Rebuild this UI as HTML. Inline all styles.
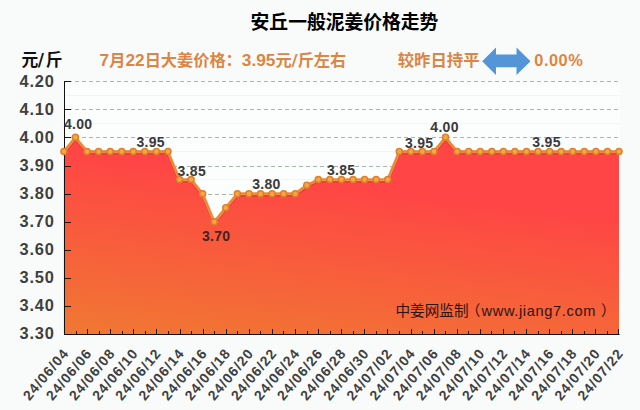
<!DOCTYPE html>
<html lang="zh"><head><meta charset="utf-8"><title>安丘一般泥姜价格走势</title>
<style>
html,body{margin:0;padding:0;background:#f9fbfb;}
body{width:640px;height:410px;overflow:hidden;position:relative;font-family:"Liberation Sans","Noto Sans CJK SC",sans-serif;}
svg{position:absolute;left:0;top:0;display:block}
svg text{font-family:"Liberation Sans","Noto Sans CJK SC",sans-serif;}
</style></head><body>
<svg width="640" height="410" viewBox="0 0 640 410">
<defs>
<linearGradient id="g" x1="1" y1="0" x2="0.6" y2="1.2">
<stop offset="0" stop-color="#ff4545"/><stop offset="0.3" stop-color="#ff4545"/><stop offset="1" stop-color="#f07832"/>
</linearGradient>
</defs>
<rect width="640" height="410" fill="#f9fbfb"/>
<rect x="65" y="81" width="555" height="253" fill="#fcfdfd"/>
<g stroke="#f2f5f4" stroke-width="1"><line x1="66" x2="620" y1="95.50" y2="95.50"/><line x1="66" x2="620" y1="123.50" y2="123.50"/><line x1="66" x2="620" y1="151.50" y2="151.50"/><line x1="66" x2="620" y1="179.50" y2="179.50"/></g>
<g stroke="#a9b7ab" stroke-width="1" stroke-dasharray="4 3"><line x1="68" x2="621" y1="81.50" y2="81.50"/><line x1="68" x2="621" y1="109.50" y2="109.50"/><line x1="68" x2="621" y1="137.50" y2="137.50"/><line x1="68" x2="621" y1="166.50" y2="166.50"/><line x1="68" x2="621" y1="194.50" y2="194.50"/><line x1="68" x2="621" y1="222.50" y2="222.50"/><line x1="68" x2="621" y1="250.50" y2="250.50"/><line x1="68" x2="621" y1="278.50" y2="278.50"/><line x1="68" x2="621" y1="306.50" y2="306.50"/></g>
<path d="M63.90,334.5 L63.90,151.43 L75.46,137.37 L87.03,151.43 L98.59,151.43 L110.16,151.43 L121.72,151.43 L133.29,151.43 L144.85,151.43 L156.42,151.43 L167.98,151.43 L179.55,179.57 L191.11,179.57 L202.68,193.63 L214.24,221.77 L225.80,207.70 L237.37,193.63 L248.93,193.63 L260.50,193.63 L272.06,193.63 L283.63,193.63 L295.19,193.63 L306.76,185.19 L318.32,179.57 L329.89,179.57 L341.45,179.57 L353.01,179.57 L364.58,179.57 L376.14,179.57 L387.71,179.57 L399.27,151.43 L410.84,151.43 L422.40,151.43 L433.97,151.43 L445.53,137.37 L457.10,151.43 L468.66,151.43 L480.22,151.43 L491.79,151.43 L503.35,151.43 L514.92,151.43 L526.48,151.43 L538.05,151.43 L549.61,151.43 L561.18,151.43 L572.74,151.43 L584.31,151.43 L595.87,151.43 L607.44,151.43 L619.00,151.43 L619.00,334.5 Z" fill="url(#g)"/>
<g stroke="#1a1a1a" stroke-width="1"><line x1="64.5" x2="71" y1="81.50" y2="81.50"/><line x1="64.5" x2="71" y1="109.50" y2="109.50"/><line x1="64.5" x2="71" y1="137.50" y2="137.50"/><line x1="64.5" x2="71" y1="166.50" y2="166.50"/><line x1="64.5" x2="71" y1="194.50" y2="194.50"/><line x1="64.5" x2="71" y1="222.50" y2="222.50"/><line x1="64.5" x2="71" y1="250.50" y2="250.50"/><line x1="64.5" x2="71" y1="278.50" y2="278.50"/><line x1="64.5" x2="71" y1="306.50" y2="306.50"/><line x1="64.5" x2="71" y1="334.50" y2="334.50"/><line x1="64.50" x2="64.50" y1="334.5" y2="329.0"/><line x1="76.50" x2="76.50" y1="334.5" y2="331.0"/><line x1="87.50" x2="87.50" y1="334.5" y2="329.0"/><line x1="99.50" x2="99.50" y1="334.5" y2="331.0"/><line x1="110.50" x2="110.50" y1="334.5" y2="329.0"/><line x1="122.50" x2="122.50" y1="334.5" y2="331.0"/><line x1="133.50" x2="133.50" y1="334.5" y2="329.0"/><line x1="145.50" x2="145.50" y1="334.5" y2="331.0"/><line x1="156.50" x2="156.50" y1="334.5" y2="329.0"/><line x1="168.50" x2="168.50" y1="334.5" y2="331.0"/><line x1="180.50" x2="180.50" y1="334.5" y2="329.0"/><line x1="191.50" x2="191.50" y1="334.5" y2="331.0"/><line x1="203.50" x2="203.50" y1="334.5" y2="329.0"/><line x1="214.50" x2="214.50" y1="334.5" y2="331.0"/><line x1="226.50" x2="226.50" y1="334.5" y2="329.0"/><line x1="237.50" x2="237.50" y1="334.5" y2="331.0"/><line x1="249.50" x2="249.50" y1="334.5" y2="329.0"/><line x1="260.50" x2="260.50" y1="334.5" y2="331.0"/><line x1="272.50" x2="272.50" y1="334.5" y2="329.0"/><line x1="283.50" x2="283.50" y1="334.5" y2="331.0"/><line x1="295.50" x2="295.50" y1="334.5" y2="329.0"/><line x1="307.50" x2="307.50" y1="334.5" y2="331.0"/><line x1="318.50" x2="318.50" y1="334.5" y2="329.0"/><line x1="330.50" x2="330.50" y1="334.5" y2="331.0"/><line x1="341.50" x2="341.50" y1="334.5" y2="329.0"/><line x1="353.50" x2="353.50" y1="334.5" y2="331.0"/><line x1="364.50" x2="364.50" y1="334.5" y2="329.0"/><line x1="376.50" x2="376.50" y1="334.5" y2="331.0"/><line x1="387.50" x2="387.50" y1="334.5" y2="329.0"/><line x1="399.50" x2="399.50" y1="334.5" y2="331.0"/><line x1="411.50" x2="411.50" y1="334.5" y2="329.0"/><line x1="422.50" x2="422.50" y1="334.5" y2="331.0"/><line x1="434.50" x2="434.50" y1="334.5" y2="329.0"/><line x1="445.50" x2="445.50" y1="334.5" y2="331.0"/><line x1="457.50" x2="457.50" y1="334.5" y2="329.0"/><line x1="468.50" x2="468.50" y1="334.5" y2="331.0"/><line x1="480.50" x2="480.50" y1="334.5" y2="329.0"/><line x1="491.50" x2="491.50" y1="334.5" y2="331.0"/><line x1="503.50" x2="503.50" y1="334.5" y2="329.0"/><line x1="514.50" x2="514.50" y1="334.5" y2="331.0"/><line x1="526.50" x2="526.50" y1="334.5" y2="329.0"/><line x1="538.50" x2="538.50" y1="334.5" y2="331.0"/><line x1="549.50" x2="549.50" y1="334.5" y2="329.0"/><line x1="561.50" x2="561.50" y1="334.5" y2="331.0"/><line x1="572.50" x2="572.50" y1="334.5" y2="329.0"/><line x1="584.50" x2="584.50" y1="334.5" y2="331.0"/><line x1="595.50" x2="595.50" y1="334.5" y2="329.0"/><line x1="607.50" x2="607.50" y1="334.5" y2="331.0"/><line x1="618.50" x2="618.50" y1="334.5" y2="329.0"/></g>
<line x1="64.5" x2="64.5" y1="81" y2="335" stroke="#111" stroke-width="1"/>
<line x1="64" x2="619.6" y1="334.5" y2="334.5" stroke="#111" stroke-width="1.1"/>
<polyline points="63.90,151.43 75.46,137.37 87.03,151.43 98.59,151.43 110.16,151.43 121.72,151.43 133.29,151.43 144.85,151.43 156.42,151.43 167.98,151.43 179.55,179.57 191.11,179.57 202.68,193.63 214.24,221.77 225.80,207.70 237.37,193.63 248.93,193.63 260.50,193.63 272.06,193.63 283.63,193.63 295.19,193.63 306.76,185.19 318.32,179.57 329.89,179.57 341.45,179.57 353.01,179.57 364.58,179.57 376.14,179.57 387.71,179.57 399.27,151.43 410.84,151.43 422.40,151.43 433.97,151.43 445.53,137.37 457.10,151.43 468.66,151.43 480.22,151.43 491.79,151.43 503.35,151.43 514.92,151.43 526.48,151.43 538.05,151.43 549.61,151.43 561.18,151.43 572.74,151.43 584.31,151.43 595.87,151.43 607.44,151.43 619.00,151.43" fill="none" stroke="#d93030" stroke-opacity="0.45" stroke-width="2.6" stroke-linejoin="round" transform="translate(0,2)"/>
<polyline points="63.90,151.43 75.46,137.37 87.03,151.43 98.59,151.43 110.16,151.43 121.72,151.43 133.29,151.43 144.85,151.43 156.42,151.43 167.98,151.43 179.55,179.57 191.11,179.57 202.68,193.63 214.24,221.77 225.80,207.70 237.37,193.63 248.93,193.63 260.50,193.63 272.06,193.63 283.63,193.63 295.19,193.63 306.76,185.19 318.32,179.57 329.89,179.57 341.45,179.57 353.01,179.57 364.58,179.57 376.14,179.57 387.71,179.57 399.27,151.43 410.84,151.43 422.40,151.43 433.97,151.43 445.53,137.37 457.10,151.43 468.66,151.43 480.22,151.43 491.79,151.43 503.35,151.43 514.92,151.43 526.48,151.43 538.05,151.43 549.61,151.43 561.18,151.43 572.74,151.43 584.31,151.43 595.87,151.43 607.44,151.43 619.00,151.43" fill="none" stroke="#f3a05a" stroke-width="2.8" stroke-linejoin="round" stroke-linecap="round"/>
<polyline points="63.90,151.43 75.46,137.37 87.03,151.43 98.59,151.43 110.16,151.43 121.72,151.43 133.29,151.43 144.85,151.43 156.42,151.43 167.98,151.43 179.55,179.57 191.11,179.57 202.68,193.63 214.24,221.77 225.80,207.70 237.37,193.63 248.93,193.63 260.50,193.63 272.06,193.63 283.63,193.63 295.19,193.63 306.76,185.19 318.32,179.57 329.89,179.57 341.45,179.57 353.01,179.57 364.58,179.57 376.14,179.57 387.71,179.57 399.27,151.43 410.84,151.43 422.40,151.43 433.97,151.43 445.53,137.37 457.10,151.43 468.66,151.43 480.22,151.43 491.79,151.43 503.35,151.43 514.92,151.43 526.48,151.43 538.05,151.43 549.61,151.43 561.18,151.43 572.74,151.43 584.31,151.43 595.87,151.43 607.44,151.43 619.00,151.43" fill="none" stroke="#ea862f" stroke-width="1.6" stroke-linejoin="round" stroke-linecap="round"/>
<g fill="#f8a545" stroke="#de7f2c" stroke-width="1.5"><circle cx="63.90" cy="151.43" r="3.0"/><circle cx="75.46" cy="137.37" r="3.0"/><circle cx="87.03" cy="151.43" r="3.0"/><circle cx="98.59" cy="151.43" r="3.0"/><circle cx="110.16" cy="151.43" r="3.0"/><circle cx="121.72" cy="151.43" r="3.0"/><circle cx="133.29" cy="151.43" r="3.0"/><circle cx="144.85" cy="151.43" r="3.0"/><circle cx="156.42" cy="151.43" r="3.0"/><circle cx="167.98" cy="151.43" r="3.0"/><circle cx="179.55" cy="179.57" r="3.0"/><circle cx="191.11" cy="179.57" r="3.0"/><circle cx="202.68" cy="193.63" r="3.0"/><circle cx="214.24" cy="221.77" r="3.0"/><circle cx="225.80" cy="207.70" r="3.0"/><circle cx="237.37" cy="193.63" r="3.0"/><circle cx="248.93" cy="193.63" r="3.0"/><circle cx="260.50" cy="193.63" r="3.0"/><circle cx="272.06" cy="193.63" r="3.0"/><circle cx="283.63" cy="193.63" r="3.0"/><circle cx="295.19" cy="193.63" r="3.0"/><circle cx="306.76" cy="185.19" r="3.0"/><circle cx="318.32" cy="179.57" r="3.0"/><circle cx="329.89" cy="179.57" r="3.0"/><circle cx="341.45" cy="179.57" r="3.0"/><circle cx="353.01" cy="179.57" r="3.0"/><circle cx="364.58" cy="179.57" r="3.0"/><circle cx="376.14" cy="179.57" r="3.0"/><circle cx="387.71" cy="179.57" r="3.0"/><circle cx="399.27" cy="151.43" r="3.0"/><circle cx="410.84" cy="151.43" r="3.0"/><circle cx="422.40" cy="151.43" r="3.0"/><circle cx="433.97" cy="151.43" r="3.0"/><circle cx="445.53" cy="137.37" r="3.0"/><circle cx="457.10" cy="151.43" r="3.0"/><circle cx="468.66" cy="151.43" r="3.0"/><circle cx="480.22" cy="151.43" r="3.0"/><circle cx="491.79" cy="151.43" r="3.0"/><circle cx="503.35" cy="151.43" r="3.0"/><circle cx="514.92" cy="151.43" r="3.0"/><circle cx="526.48" cy="151.43" r="3.0"/><circle cx="538.05" cy="151.43" r="3.0"/><circle cx="549.61" cy="151.43" r="3.0"/><circle cx="561.18" cy="151.43" r="3.0"/><circle cx="572.74" cy="151.43" r="3.0"/><circle cx="584.31" cy="151.43" r="3.0"/><circle cx="595.87" cy="151.43" r="3.0"/><circle cx="607.44" cy="151.43" r="3.0"/><circle cx="619.00" cy="151.43" r="3.0"/></g>
<g font-size="16.4" font-weight="bold" fill="#404040" letter-spacing="0.9"><text x="54.9" y="87.00" text-anchor="end">4.20</text><text x="54.9" y="115.03" text-anchor="end">4.10</text><text x="54.9" y="143.06" text-anchor="end">4.00</text><text x="54.9" y="171.09" text-anchor="end">3.90</text><text x="54.9" y="199.12" text-anchor="end">3.80</text><text x="54.9" y="227.15" text-anchor="end">3.70</text><text x="54.9" y="255.18" text-anchor="end">3.60</text><text x="54.9" y="283.21" text-anchor="end">3.50</text><text x="54.9" y="311.24" text-anchor="end">3.40</text><text x="54.9" y="339.27" text-anchor="end">3.30</text></g>
<g font-size="14" font-weight="bold" fill="#3a3a3a" letter-spacing="0.3"><text x="78.15" y="129.3" text-anchor="middle">4.00</text><text x="150.65" y="147.2" text-anchor="middle">3.95</text><text x="191.75" y="176.3" text-anchor="middle">3.85</text><text x="216.15" y="240.5" text-anchor="middle" fill="#47221e">3.70</text><text x="266.45" y="189.4" text-anchor="middle">3.80</text><text x="341.15" y="175.3" text-anchor="middle">3.85</text><text x="419.15" y="147.5" text-anchor="middle">3.95</text><text x="444.54999999999995" y="132.2" text-anchor="middle">4.00</text><text x="546.55" y="147.2" text-anchor="middle">3.95</text></g>
<g font-size="14" font-weight="bold" fill="#404040" letter-spacing="1"><text transform="translate(66.50,350.9) rotate(-50)" text-anchor="end" y="4">24/06/04</text><text transform="translate(89.61,350.9) rotate(-50)" text-anchor="end" y="4">24/06/06</text><text transform="translate(112.72,350.9) rotate(-50)" text-anchor="end" y="4">24/06/08</text><text transform="translate(135.83,350.9) rotate(-50)" text-anchor="end" y="4">24/06/10</text><text transform="translate(158.94,350.9) rotate(-50)" text-anchor="end" y="4">24/06/12</text><text transform="translate(182.05,350.9) rotate(-50)" text-anchor="end" y="4">24/06/14</text><text transform="translate(205.16,350.9) rotate(-50)" text-anchor="end" y="4">24/06/16</text><text transform="translate(228.27,350.9) rotate(-50)" text-anchor="end" y="4">24/06/18</text><text transform="translate(251.38,350.9) rotate(-50)" text-anchor="end" y="4">24/06/20</text><text transform="translate(274.49,350.9) rotate(-50)" text-anchor="end" y="4">24/06/22</text><text transform="translate(297.60,350.9) rotate(-50)" text-anchor="end" y="4">24/06/24</text><text transform="translate(320.71,350.9) rotate(-50)" text-anchor="end" y="4">24/06/26</text><text transform="translate(343.82,350.9) rotate(-50)" text-anchor="end" y="4">24/06/28</text><text transform="translate(366.93,350.9) rotate(-50)" text-anchor="end" y="4">24/06/30</text><text transform="translate(390.04,350.9) rotate(-50)" text-anchor="end" y="4">24/07/02</text><text transform="translate(413.15,350.9) rotate(-50)" text-anchor="end" y="4">24/07/04</text><text transform="translate(436.26,350.9) rotate(-50)" text-anchor="end" y="4">24/07/06</text><text transform="translate(459.37,350.9) rotate(-50)" text-anchor="end" y="4">24/07/08</text><text transform="translate(482.48,350.9) rotate(-50)" text-anchor="end" y="4">24/07/10</text><text transform="translate(505.59,350.9) rotate(-50)" text-anchor="end" y="4">24/07/12</text><text transform="translate(528.70,350.9) rotate(-50)" text-anchor="end" y="4">24/07/14</text><text transform="translate(551.81,350.9) rotate(-50)" text-anchor="end" y="4">24/07/16</text><text transform="translate(574.92,350.9) rotate(-50)" text-anchor="end" y="4">24/07/18</text><text transform="translate(598.03,350.9) rotate(-50)" text-anchor="end" y="4">24/07/20</text><text transform="translate(621.14,350.9) rotate(-50)" text-anchor="end" y="4">24/07/22</text></g>
<text x="344.5" y="29.1" text-anchor="middle" font-size="18.8" font-weight="bold" fill="#000">安丘一般泥姜价格走势</text>
<text y="66.1" font-size="16.8" font-weight="bold" fill="#111"><tspan x="21.5">元</tspan><tspan x="37.8" font-family="'DejaVu Sans',sans-serif" font-size="17">/</tspan><tspan x="45.8">斤</tspan></text>
<text x="99.6" y="65.6" font-size="16.2" font-weight="bold" fill="#dd8542"><tspan font-size="17.3">7</tspan>月<tspan font-size="17.3">22</tspan>日大姜价格：<tspan font-size="17.3">3.95</tspan>元<tspan font-family="'DejaVu Sans',sans-serif" font-size="16.6">/</tspan>斤左右</text>
<text x="397.7" y="65.6" font-size="16.4" font-weight="bold" fill="#dd8542">较昨日持平</text>
<path d="M482.2 61.2 L496 47.5 L496 54.6 L516.5 54.6 L516.5 47.5 L530.5 61.2 L516.5 74.9 L516.5 67.3 L496 67.3 L496 74.9 Z" fill="#5395d7"/>
<text x="534.3" y="65.8" font-size="16.4" font-weight="bold" fill="#dd8542" letter-spacing="0.5">0.00%</text>
<text y="316" font-size="14.6" fill="#2e1410"><tspan x="395.5">中姜网监制</tspan><tspan x="465.8">（</tspan><tspan x="481.5" letter-spacing="0.65">www.jiang7.com</tspan><tspan x="601">）</tspan></text>
</svg>
</body></html>
